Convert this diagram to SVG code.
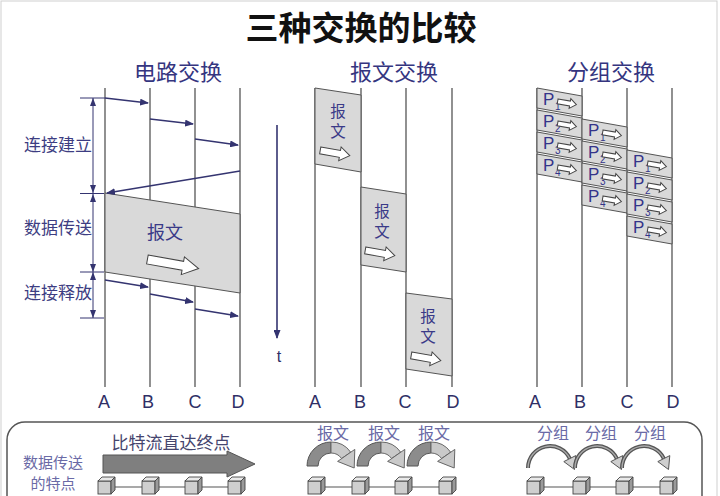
<svg xmlns="http://www.w3.org/2000/svg" width="720" height="496" viewBox="0 0 720 496">
<style>
.cjk{font-family:"Noto Sans CJK SC","Liberation Sans",sans-serif}
.lat{font-family:"Liberation Sans",Arial,sans-serif}
.title{font-size:33px;font-weight:700;fill:#111}
.sec{font-size:22px;fill:#35357f;text-anchor:middle}
.lab{font-size:17px;fill:#3d3d82}
.node{font-size:18px;fill:#2f2f66;text-anchor:middle}
.inn{font-size:15.5px;fill:#3a3a88;text-anchor:middle}
.pk{font-size:17px;fill:#34348a}
.sub{font-size:10px;fill:#34348a}
.bot{font-size:16px;fill:#6a6aa6;text-anchor:middle}
.feat{font-size:15px;fill:#6a6aa6;text-anchor:middle}
.vl{stroke:#555;stroke-width:1.3;fill:none}
.box{fill:#d9d9d9;stroke:#555;stroke-width:1}
.wa{fill:#fff;stroke:#444;stroke-width:1}
.con{stroke:#343470;stroke-width:1.5;fill:none;marker-end:url(#ah)}
.dim{stroke:#343470;stroke-width:1;fill:none}
.dah{fill:#343470}
</style>
<defs>
<marker id="ah" markerUnits="userSpaceOnUse" markerWidth="9" markerHeight="7" refX="8" refY="3.5" orient="auto">
<path d="M0,0 L9,3.5 L0,7 Z" fill="#343470"/>
</marker>
<path id="arBig" d="M-26,-4.5 L10,-4.5 L10,-9 L26,0 L10,9 L10,4.5 L-26,4.5 Z"/>
<path id="arMid" d="M-15,-3.5 L5,-3.5 L5,-7 L15,0 L5,7 L5,3.5 L-15,3.5 Z"/>
<path id="arSm" d="M-9.5,-2.5 L3,-2.5 L3,-5 L9.5,0 L3,5 L3,2.5 L-9.5,2.5 Z"/>
<g id="cube">
<rect x="0" y="4" width="13" height="13" fill="#cfcfcf" stroke="#444" stroke-width="0.9"/>
<polygon points="0,4 4,0 17,0 13,4" fill="#e9e9e9" stroke="#444" stroke-width="0.9"/>
<polygon points="13,4 17,0 17,13 13,17" fill="#9a9a9a" stroke="#444" stroke-width="0.9"/>
</g>
<g id="fatArc">
<path d="M307,466 A24,24 0 0 1 331,442 L331,453 A13,13 0 0 0 318,466 Z" fill="#8c8c8c" stroke="#555" stroke-width="1"/>
<path d="M331,442 A24,24 0 0 1 350.7,452.2 L341.6,458.5 A13,13 0 0 0 331,453 Z" fill="#c9c9c9" stroke="#666" stroke-width="1"/>
<polygon points="354.8,449.4 354.2,468 337.6,461.4" fill="#c9c9c9" stroke="#666" stroke-width="1"/>
</g>
<g id="thinArc">
<path d="M528,468 A22,22 0 0 1 569.9,458.7" fill="none" stroke="#555" stroke-width="4"/>
<path d="M528,468 A22,22 0 0 1 569.9,458.7" fill="none" stroke="#aaa" stroke-width="1.4"/>
<polygon points="575.8,455.6 574.5,469.5 563.8,461.6" fill="#cfcfcf" stroke="#555" stroke-width="1"/>
</g>
</defs>

<rect x="1" y="1" width="716" height="500" fill="#fff" stroke="#cfcfcf" stroke-width="1"/>

<text class="cjk title" x="361" y="40" text-anchor="middle">三种交换的比较</text>

<g id="circuit">
<text class="cjk sec" x="178" y="80">电路交换</text>
<line class="vl" x1="105" y1="88" x2="105" y2="387"/>
<line class="vl" x1="150" y1="88" x2="150" y2="387"/>
<line class="vl" x1="195" y1="88" x2="195" y2="387"/>
<line class="vl" x1="240" y1="88" x2="240" y2="387"/>
<polygon class="box" points="105,193 240,214 240,293 105,272"/>
<text class="cjk" x="165" y="239" font-size="18" fill="#3a3a88" text-anchor="middle">报文</text>
<use href="#arBig" class="wa" transform="translate(173,264) rotate(10)"/>
<text class="lat node" x="104" y="408">A</text>
<text class="lat node" x="148" y="408">B</text>
<text class="lat node" x="195" y="408">C</text>
<text class="lat node" x="238" y="408">D</text>
</g>

<g id="circuit-phases">
<text class="cjk lab" x="24" y="151">连接建立</text>
<text class="cjk lab" x="24" y="234">数据传送</text>
<text class="cjk lab" x="24" y="299">连接释放</text>
<line class="dim" x1="93" y1="98" x2="93" y2="318"/>
<line class="dim" x1="80" y1="98" x2="105" y2="98"/>
<line class="dim" x1="80" y1="193.5" x2="104" y2="193.5"/>
<line class="dim" x1="80" y1="272" x2="104" y2="272"/>
<line class="dim" x1="80" y1="318" x2="104" y2="318"/>
<polygon class="dah" points="93,98 90,106 96,106"/>
<polygon class="dah" points="93,193 90,185 96,185"/>
<polygon class="dah" points="93,194 90,202 96,202"/>
<polygon class="dah" points="93,272 90,264 96,264"/>
<polygon class="dah" points="93,272 90,280 96,280"/>
<polygon class="dah" points="93,318 90,310 96,310"/>
</g>

<g id="time-axis">
<line x1="277" y1="125" x2="277" y2="338" stroke="#343470" stroke-width="1.6" marker-end="url(#ah)"/>
<text class="lat" x="279" y="362" font-size="16" fill="#2f2f66" text-anchor="middle">t</text>
</g>

<g id="message">
<text class="cjk sec" x="394" y="80">报文交换</text>
<line class="vl" x1="315" y1="88" x2="315" y2="387"/>
<line class="vl" x1="361" y1="88" x2="361" y2="387"/>
<line class="vl" x1="406" y1="88" x2="406" y2="387"/>
<line class="vl" x1="452" y1="88" x2="452" y2="387"/>
<polygon class="box" points="315,88 361,95 361,172 315,164"/>
<polygon class="box" points="361,187 406,194 406,272 361,265"/>
<polygon class="box" points="406,293 452,299 452,376 406,369"/>
<text class="cjk inn" x="338" y="117">报</text>
<text class="cjk inn" x="338" y="137">文</text>
<text class="cjk inn" x="382" y="217">报</text>
<text class="cjk inn" x="382" y="237">文</text>
<text class="cjk inn" x="428" y="322">报</text>
<text class="cjk inn" x="428" y="342">文</text>
<use href="#arMid" class="wa" transform="translate(335,153) rotate(10)"/>
<use href="#arMid" class="wa" transform="translate(380,253) rotate(10)"/>
<use href="#arMid" class="wa" transform="translate(426,358) rotate(10)"/>
<text class="lat node" x="315" y="408">A</text>
<text class="lat node" x="360" y="408">B</text>
<text class="lat node" x="405" y="408">C</text>
<text class="lat node" x="453" y="408">D</text>
</g>

<g id="packet">
<text class="cjk sec" x="611" y="80">分组交换</text>
<line class="vl" x1="537" y1="88" x2="537" y2="387"/>
<line class="vl" x1="582" y1="88" x2="582" y2="387"/>
<line class="vl" x1="627" y1="88" x2="627" y2="387"/>
<line class="vl" x1="672" y1="88" x2="672" y2="387"/>
<g id="col-A">
<polygon class="box" points="537,88 582,96 582,116 537,108"/>
<polygon class="box" points="537,110 582,118 582,138 537,130"/>
<polygon class="box" points="537,132 582,140 582,160 537,152"/>
<polygon class="box" points="537,154 582,162 582,182 537,174"/>
<text class="lat pk" x="543" y="105">P</text><text class="lat sub" x="555" y="110">1</text>
<text class="lat pk" x="543" y="127">P</text><text class="lat sub" x="555" y="132">2</text>
<text class="lat pk" x="543" y="149">P</text><text class="lat sub" x="555" y="154">3</text>
<text class="lat pk" x="543" y="171">P</text><text class="lat sub" x="555" y="176">4</text>
<use href="#arSm" class="wa" transform="translate(567,103) rotate(10)"/>
<use href="#arSm" class="wa" transform="translate(567,125) rotate(10)"/>
<use href="#arSm" class="wa" transform="translate(567,147) rotate(10)"/>
<use href="#arSm" class="wa" transform="translate(567,169) rotate(10)"/>
</g>
<g id="col-B">
<polygon class="box" points="582,119 627,127 627,147 582,139"/>
<polygon class="box" points="582,141 627,149 627,169 582,161"/>
<polygon class="box" points="582,163 627,171 627,191 582,183"/>
<polygon class="box" points="582,185 627,193 627,213 582,205"/>
<text class="lat pk" x="588" y="136">P</text><text class="lat sub" x="600" y="141">1</text>
<text class="lat pk" x="588" y="158">P</text><text class="lat sub" x="600" y="163">2</text>
<text class="lat pk" x="588" y="180">P</text><text class="lat sub" x="600" y="185">3</text>
<text class="lat pk" x="588" y="202">P</text><text class="lat sub" x="600" y="207">4</text>
<use href="#arSm" class="wa" transform="translate(612,134) rotate(10)"/>
<use href="#arSm" class="wa" transform="translate(612,156) rotate(10)"/>
<use href="#arSm" class="wa" transform="translate(612,178) rotate(10)"/>
<use href="#arSm" class="wa" transform="translate(612,200) rotate(10)"/>
</g>
<g id="col-C">
<polygon class="box" points="627,150 672,158 672,178 627,170"/>
<polygon class="box" points="627,172 672,180 672,200 627,192"/>
<polygon class="box" points="627,194 672,202 672,222 627,214"/>
<polygon class="box" points="627,216 672,224 672,244 627,236"/>
<text class="lat pk" x="633" y="167">P</text><text class="lat sub" x="645" y="172">1</text>
<text class="lat pk" x="633" y="189">P</text><text class="lat sub" x="645" y="194">2</text>
<text class="lat pk" x="633" y="211">P</text><text class="lat sub" x="645" y="216">3</text>
<text class="lat pk" x="633" y="233">P</text><text class="lat sub" x="645" y="238">4</text>
<use href="#arSm" class="wa" transform="translate(657,165) rotate(10)"/>
<use href="#arSm" class="wa" transform="translate(657,187) rotate(10)"/>
<use href="#arSm" class="wa" transform="translate(657,209) rotate(10)"/>
<use href="#arSm" class="wa" transform="translate(657,231) rotate(10)"/>
</g>
<text class="lat node" x="535" y="408">A</text>
<text class="lat node" x="580" y="408">B</text>
<text class="lat node" x="627" y="408">C</text>
<text class="lat node" x="673" y="408">D</text>
</g>

<g id="connectors">
<line class="con" x1="105" y1="98" x2="148" y2="103"/>
<line class="con" x1="150" y1="119" x2="193" y2="124"/>
<line class="con" x1="195" y1="139" x2="238" y2="145"/>
<line class="con" x1="240" y1="171" x2="107" y2="193"/>
<line class="con" x1="105" y1="280" x2="148" y2="287"/>
<line class="con" x1="150" y1="294" x2="193" y2="302"/>
<line class="con" x1="195" y1="309" x2="238" y2="316"/>
</g>

<g id="features">
<rect x="7" y="422" width="695" height="110" rx="18" fill="none" stroke="#555" stroke-width="1.5"/>
<text class="cjk feat" x="53" y="468">数据传送</text>
<text class="cjk feat" x="53" y="489">的特点</text>
<text class="cjk" x="171" y="449" font-size="17" fill="#45456e" text-anchor="middle">比特流直达终点</text>
<polygon points="103,455 227,455 227,451 255,464 227,477 227,473 103,473" fill="#7f7f7f" stroke="#555" stroke-width="1"/>
<line x1="106" y1="487" x2="236" y2="487" stroke="#555" stroke-width="1.2"/>
<use href="#cube" x="98" y="477"/>
<use href="#cube" x="142" y="477"/>
<use href="#cube" x="185" y="477"/>
<use href="#cube" x="228" y="477"/>

<text class="cjk bot" x="333" y="439">报文</text>
<text class="cjk bot" x="384" y="439">报文</text>
<text class="cjk bot" x="434" y="439">报文</text>
<use href="#fatArc"/>
<use href="#fatArc" x="50"/>
<use href="#fatArc" x="100"/>
<line x1="316" y1="487" x2="447" y2="487" stroke="#555" stroke-width="1.2"/>
<use href="#cube" x="308" y="477"/>
<use href="#cube" x="352" y="477"/>
<use href="#cube" x="395" y="477"/>
<use href="#cube" x="439" y="477"/>

<text class="cjk bot" x="553" y="439">分组</text>
<text class="cjk bot" x="601" y="439">分组</text>
<text class="cjk bot" x="650" y="439">分组</text>
<use href="#thinArc"/>
<use href="#thinArc" x="47"/>
<use href="#thinArc" x="94"/>
<line x1="535" y1="487" x2="668" y2="487" stroke="#555" stroke-width="1.2"/>
<use href="#cube" x="527" y="477"/>
<use href="#cube" x="573" y="477"/>
<use href="#cube" x="616" y="477"/>
<use href="#cube" x="660" y="477"/>
</g>
</svg>
